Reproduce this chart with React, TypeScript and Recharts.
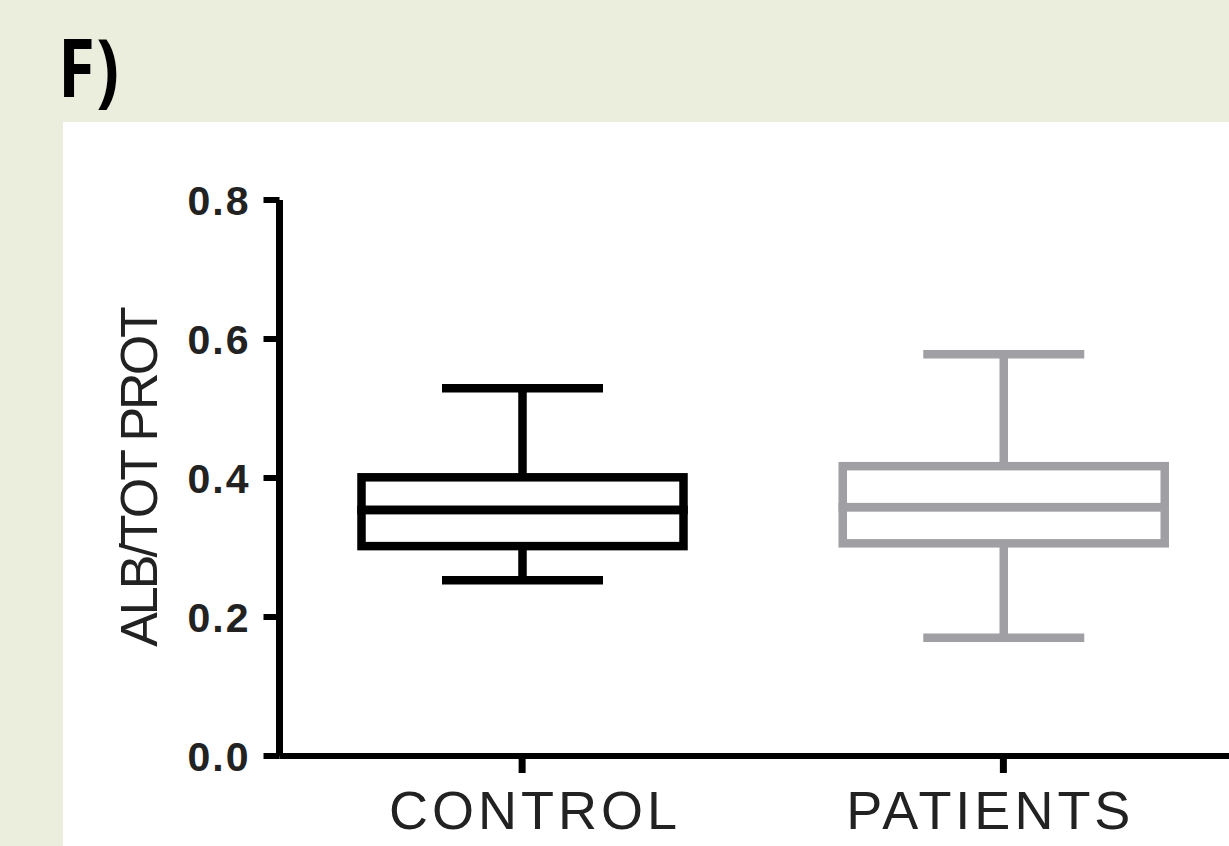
import { BarChart, Bar, XAxis, YAxis } from 'recharts';

// box plot summary values
const categories = ['CONTROL', 'PATIENTS'];
const minValues = [0.253, 0.17];
const q1Values = [0.302, 0.306];
const medianValues = [0.354, 0.358];
const q3Values = [0.401, 0.417];
const maxValues = [0.529, 0.578];
const yTicks = [0, 0.2, 0.4, 0.6, 0.8];

const boxColors = ['#000000', '#a0a0a4'];
const labelShift = [13, -13];
const STROKE = 8.5;

const chartData = categories.map((name, i) => ({
  name,
  base: minValues[i],
  lowWhisker: q1Values[i] - minValues[i],
  lowBox: medianValues[i] - q1Values[i],
  highBox: q3Values[i] - medianValues[i],
  highWhisker: maxValues[i] - q3Values[i],
}));

const LowWhisker = (props: any) => {
  const { x, y, width, height, index } = props;
  const cx = x + width / 2;
  const c = boxColors[index];
  return (
    <g>
      <line x1={cx} x2={cx} y1={y} y2={y + height} stroke={c} strokeWidth={STROKE} />
      <line x1={cx - width / 4} x2={cx + width / 4} y1={y + height} y2={y + height} stroke={c} strokeWidth={STROKE} />
    </g>
  );
};

const HighWhisker = (props: any) => {
  const { x, y, width, height, index } = props;
  const cx = x + width / 2;
  const c = boxColors[index];
  return (
    <g>
      <line x1={cx} x2={cx} y1={y} y2={y + height} stroke={c} strokeWidth={STROKE} />
      <line x1={cx - width / 4} x2={cx + width / 4} y1={y} y2={y} stroke={c} strokeWidth={STROKE} />
    </g>
  );
};

const BoxHalf = (props: any) => {
  const { x, y, width, height, index } = props;
  return <rect x={x} y={y} width={width} height={height} fill="none" stroke={boxColors[index]} strokeWidth={STROKE} />;
};

const CategoryTick = (props: any) => {
  const { x, y, payload, index } = props;
  return (
    <text
      x={x + labelShift[index]}
      y={y + 54}
      textAnchor="middle"
      fontFamily="'Liberation Sans', Arial, sans-serif"
      fontSize={54}
      letterSpacing={4}
      fill="#222"
    >
      {payload.value}
    </text>
  );
};

const YLabel = (props: any) => {
  const { viewBox } = props;
  const bx = viewBox.x + 77.5;
  const cy = viewBox.y + viewBox.height / 2;
  return (
    <text
      x={bx}
      y={cy}
      transform={`rotate(-90, ${bx}, ${cy})`}
      textAnchor="middle"
      fontFamily="'Liberation Sans', Arial, sans-serif"
      fontSize={52}
      letterSpacing={-3}
      fill="#222"
    >
      ALB/TOT PROT
    </text>
  );
};

export default function App() {
  return (
    <div
      style={{
        position: 'fixed',
        left: 0,
        top: 0,
        width: 1229,
        height: 846,
        background: '#ebeedd',
        overflow: 'hidden',
      }}
    >
      <div style={{ position: 'absolute', left: 63, top: 122, right: 0, bottom: 0, background: '#ffffff' }} />
      <svg style={{ position: 'absolute', left: 0, top: 0 }} width={300} height={120}>
        <text
          x={58}
          y={97}
          transform="translate(58 0) scale(0.84 1) translate(-58 0)"
          fontFamily="'Noto Sans', sans-serif"
          fontWeight={700}
          fontSize={80}
          fill="#000"
        >
          F)
        </text>
      </svg>
      <div style={{ position: 'absolute', left: 0, top: 0 }}>
        <BarChart
          width={1250}
          height={846}
          data={chartData}
          margin={{ top: 200, right: 6, bottom: 30, left: 79.5 }}
        >
          <XAxis
            dataKey="name"
            height={60}
            padding={{ left: 2, right: 0 }}
            axisLine={{ stroke: '#000', strokeWidth: 6 }}
            tickLine={{ stroke: '#000', strokeWidth: 7 }}
            tickSize={17}
            tickMargin={2}
            tick={<CategoryTick />}
          />
          <YAxis
            width={200}
            domain={[0, 0.8]}
            ticks={yTicks}
            tickFormatter={(v: number) => v.toFixed(1)}
            axisLine={{ stroke: '#000', strokeWidth: 7 }}
            tickLine={{ stroke: '#000', strokeWidth: 6 }}
            tickSize={16}
            tickMargin={13}
            tick={{
              fontFamily: "'Liberation Sans', Arial, sans-serif",
              fontSize: 41,
              fontWeight: 700,
              letterSpacing: 2,
              fill: '#222',
            }}
            label={{ content: <YLabel /> }}
          />
          <Bar dataKey="base" stackId="a" fill="transparent" barSize={322} isAnimationActive={false} />
          <Bar dataKey="lowWhisker" stackId="a" barSize={322} shape={<LowWhisker />} isAnimationActive={false} />
          <Bar dataKey="lowBox" stackId="a" barSize={322} shape={<BoxHalf />} isAnimationActive={false} />
          <Bar dataKey="highBox" stackId="a" barSize={322} shape={<BoxHalf />} isAnimationActive={false} />
          <Bar dataKey="highWhisker" stackId="a" barSize={322} shape={<HighWhisker />} isAnimationActive={false} />
        </BarChart>
      </div>
    </div>
  );
}
